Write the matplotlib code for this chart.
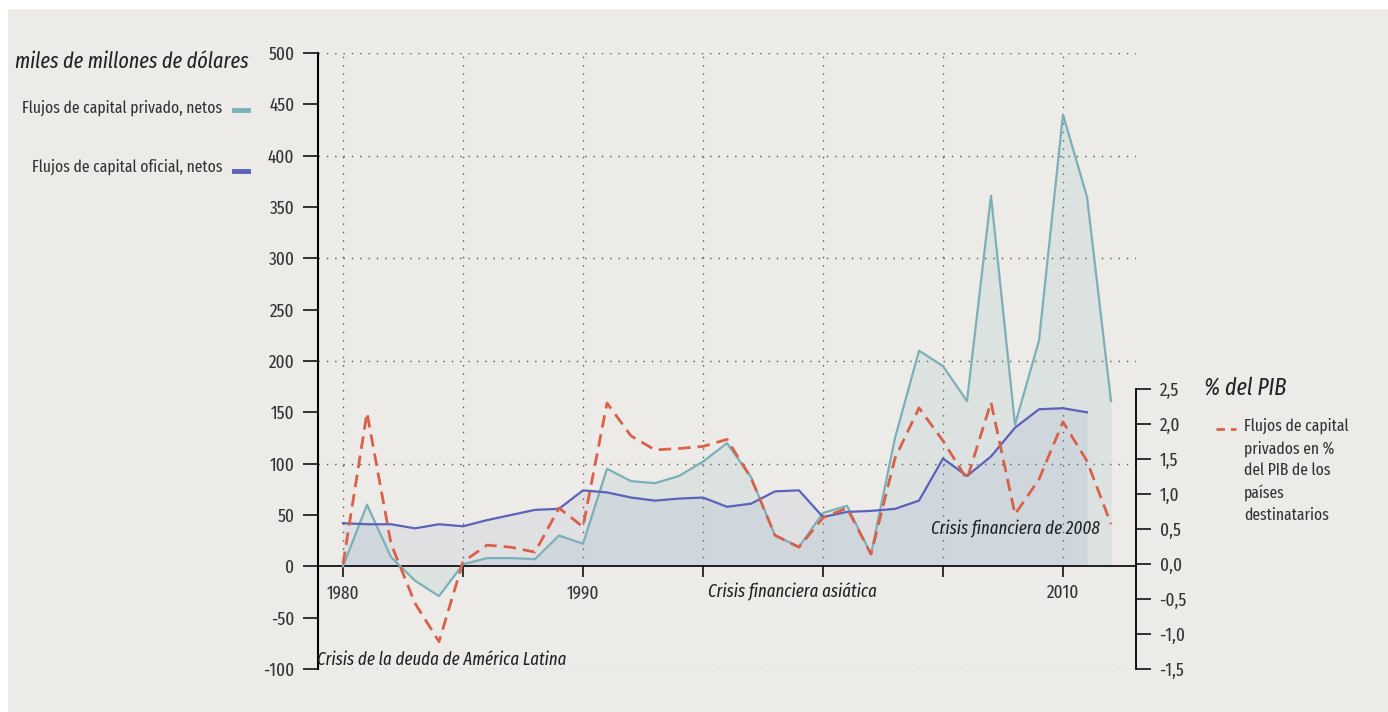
import matplotlib.pyplot as plt
from matplotlib.patches import Rectangle
from matplotlib.lines import Line2D
import numpy as np

plt.rcParams['font.family'] = ['Fira Sans Extra Condensed', 'DejaVu Sans']

years = np.arange(1980, 2013)
privado = np.array([0, 60, 9, -14, -29, 2, 8, 8, 7, 30, 22, 95, 83, 81, 88, 102, 120, 87,
                    30, 19, 52, 59, 12, 125, 210, 195, 161, 361, 138, 220, 440, 360, 161])
years_of = np.arange(1980, 2012)
oficial = np.array([42, 41, 41, 37, 41, 39, 45, 50, 55, 56, 74, 72, 67, 64, 66, 67, 58, 61,
                    73, 74, 48, 53, 54, 56, 64, 105, 88, 107, 135, 153, 154, 150])
pib = np.array([0.0, 2.16, 0.29, -0.56, -1.11, 0.03, 0.27, 0.24, 0.17, 0.80, 0.53, 2.30, 1.83,
                1.63, 1.65, 1.68, 1.78, 1.23, 0.41, 0.24, 0.66, 0.80, 0.14, 1.51, 2.23, 1.76,
                1.21, 2.31, 0.71, 1.21, 2.03, 1.47, 0.57])

left_ticks = [-100, -50, 0, 50, 100, 150, 200, 250, 300, 350, 400, 450, 500]
right_ticks = [-1.5, -1.0, -0.5, 0.0, 0.5, 1.0, 1.5, 2.0, 2.5]
x_ticks = [1980, 1985, 1990, 1995, 2000, 2005, 2010]
x_labels = ['1980', '', '1990', '', '', '', '2010']

c_priv = '#7bb0b9'
c_of = '#5a62b9'
c_pib = '#d9614a'
bg = '#ecebe7'
txt = '#333333'

fig = plt.figure(figsize=(13.88, 7.12), dpi=100)
fig.patch.set_facecolor('white')
fig.patches.append(Rectangle((8 / 1388, 0), 1, 1 - 9 / 712, transform=fig.transFigure,
                             facecolor=bg, edgecolor='none', zorder=-10))

ax = fig.add_axes([318 / 1388, 1 - 669 / 712, (1136 - 318) / 1388, 616 / 712])
ax.set_facecolor('none')
ax.set_xlim(1980 - 25 / 24, 1980 + (1136 - 343) / 24)
ax.set_ylim(-100, 500)

# grid: horizontal full width, vertical only above zero
for v in [-100, 100, 200, 300, 400, 500]:
    ax.axhline(v, color='#555555', lw=1, ls=(0, (1, 5)), zorder=1)
for yr in x_ticks:
    ax.plot([yr, yr], [0, 500], color='#555555', lw=1, ls=(0, (1, 5)), zorder=1)

ax.fill_between(years, 0, privado, color=c_priv, alpha=0.15, lw=0, zorder=2)
ax.fill_between(years_of, 0, oficial, color=c_of, alpha=0.08, lw=0, zorder=2)
ax.plot(years, privado, color=c_priv, lw=1.6, zorder=3)
ax.plot(years_of, oficial, color=c_of, lw=1.6, zorder=4)

for s in ['top', 'right']:
    ax.spines[s].set_visible(False)
ax.spines['bottom'].set_position(('data', 0))
ax.spines['bottom'].set_linewidth(1.2)
ax.spines['left'].set_linewidth(1.5)
ax.set_yticks(left_ticks)
ax.set_yticklabels([str(t) for t in left_ticks])
ax.tick_params(axis='y', direction='out', length=11, width=1.3, pad=6,
               labelsize=13.5, labelcolor=txt, color='#222222')
ax.set_xticks(x_ticks)
ax.set_xticklabels(x_labels)
ax.tick_params(axis='x', direction='out', length=8, width=1.3, pad=5,
               labelsize=13.5, labelcolor=txt, color='#222222')

ax2 = ax.twinx()
ax2.set_ylim(-1.5, 7.3)
ax2.plot(years, pib, color=c_pib, lw=2, dashes=(4.5, 2.5), zorder=5)
for s in ['top', 'left', 'bottom']:
    ax2.spines[s].set_visible(False)
ax2.spines['right'].set_bounds(-1.5, 2.5)
ax2.spines['right'].set_linewidth(1.3)
ax2.set_yticks(right_ticks)
ax2.set_yticklabels([f'{t:.1f}'.replace('.', ',') for t in right_ticks])
ax2.tick_params(axis='y', direction='out', length=11, width=1.3, pad=6,
                labelsize=13.5, labelcolor=txt, color='#222222')

# annotations
ax.text(1978.9, -91, 'Crisis de la deuda de América Latina', style='italic',
        fontsize=13.2, color='#222222', va='center', ha='left', zorder=6)
ax.text(1995.2, -25, 'Crisis financiera asiática', style='italic',
        fontsize=13.2, color='#222222', va='center', ha='left', zorder=6)
ax.text(2004.5, 36, 'Crisis financiera de 2008', style='italic',
        fontsize=13.2, color='#222222', va='center', ha='left', zorder=6)

# legend, left
fig.text(15 / 1388, 1 - 62 / 712, 'miles de millones de dólares', style='italic',
         fontsize=15.7, color='#222222', va='center', ha='left')
fig.text(222 / 1388, 1 - 108 / 712, 'Flujos de capital privado, netos',
         fontsize=12.2, color=txt, va='center', ha='right')
fig.text(222 / 1388, 1 - 167 / 712, 'Flujos de capital oficial, netos',
         fontsize=12.2, color=txt, va='center', ha='right')
fig.lines.append(Line2D([234 / 1388, 248 / 1388], [1 - 110 / 712] * 2,
                        transform=fig.transFigure, color=c_priv, lw=3.5))
fig.lines.append(Line2D([234 / 1388, 248 / 1388], [1 - 171 / 712] * 2,
                        transform=fig.transFigure, color=c_of, lw=3.5))

# legend, right
fig.text(1204 / 1388, 1 - 388 / 712, '% del PIB', style='italic',
         fontsize=17, color='#222222', va='center', ha='left')
fig.lines.append(Line2D([1216 / 1388, 1236 / 1388], [1 - 429 / 712] * 2,
                        transform=fig.transFigure, color=c_pib, lw=2, dashes=(3, 2.2)))
fig.text(1244 / 1388, 1 - 418 / 712,
         'Flujos de capital\nprivados en %\ndel PIB de los\npaíses\ndestinatarios',
         fontsize=12.2, color=txt, va='top', ha='left', linespacing=1.45)

fig.savefig('out.png', dpi=100, facecolor=fig.get_facecolor())
